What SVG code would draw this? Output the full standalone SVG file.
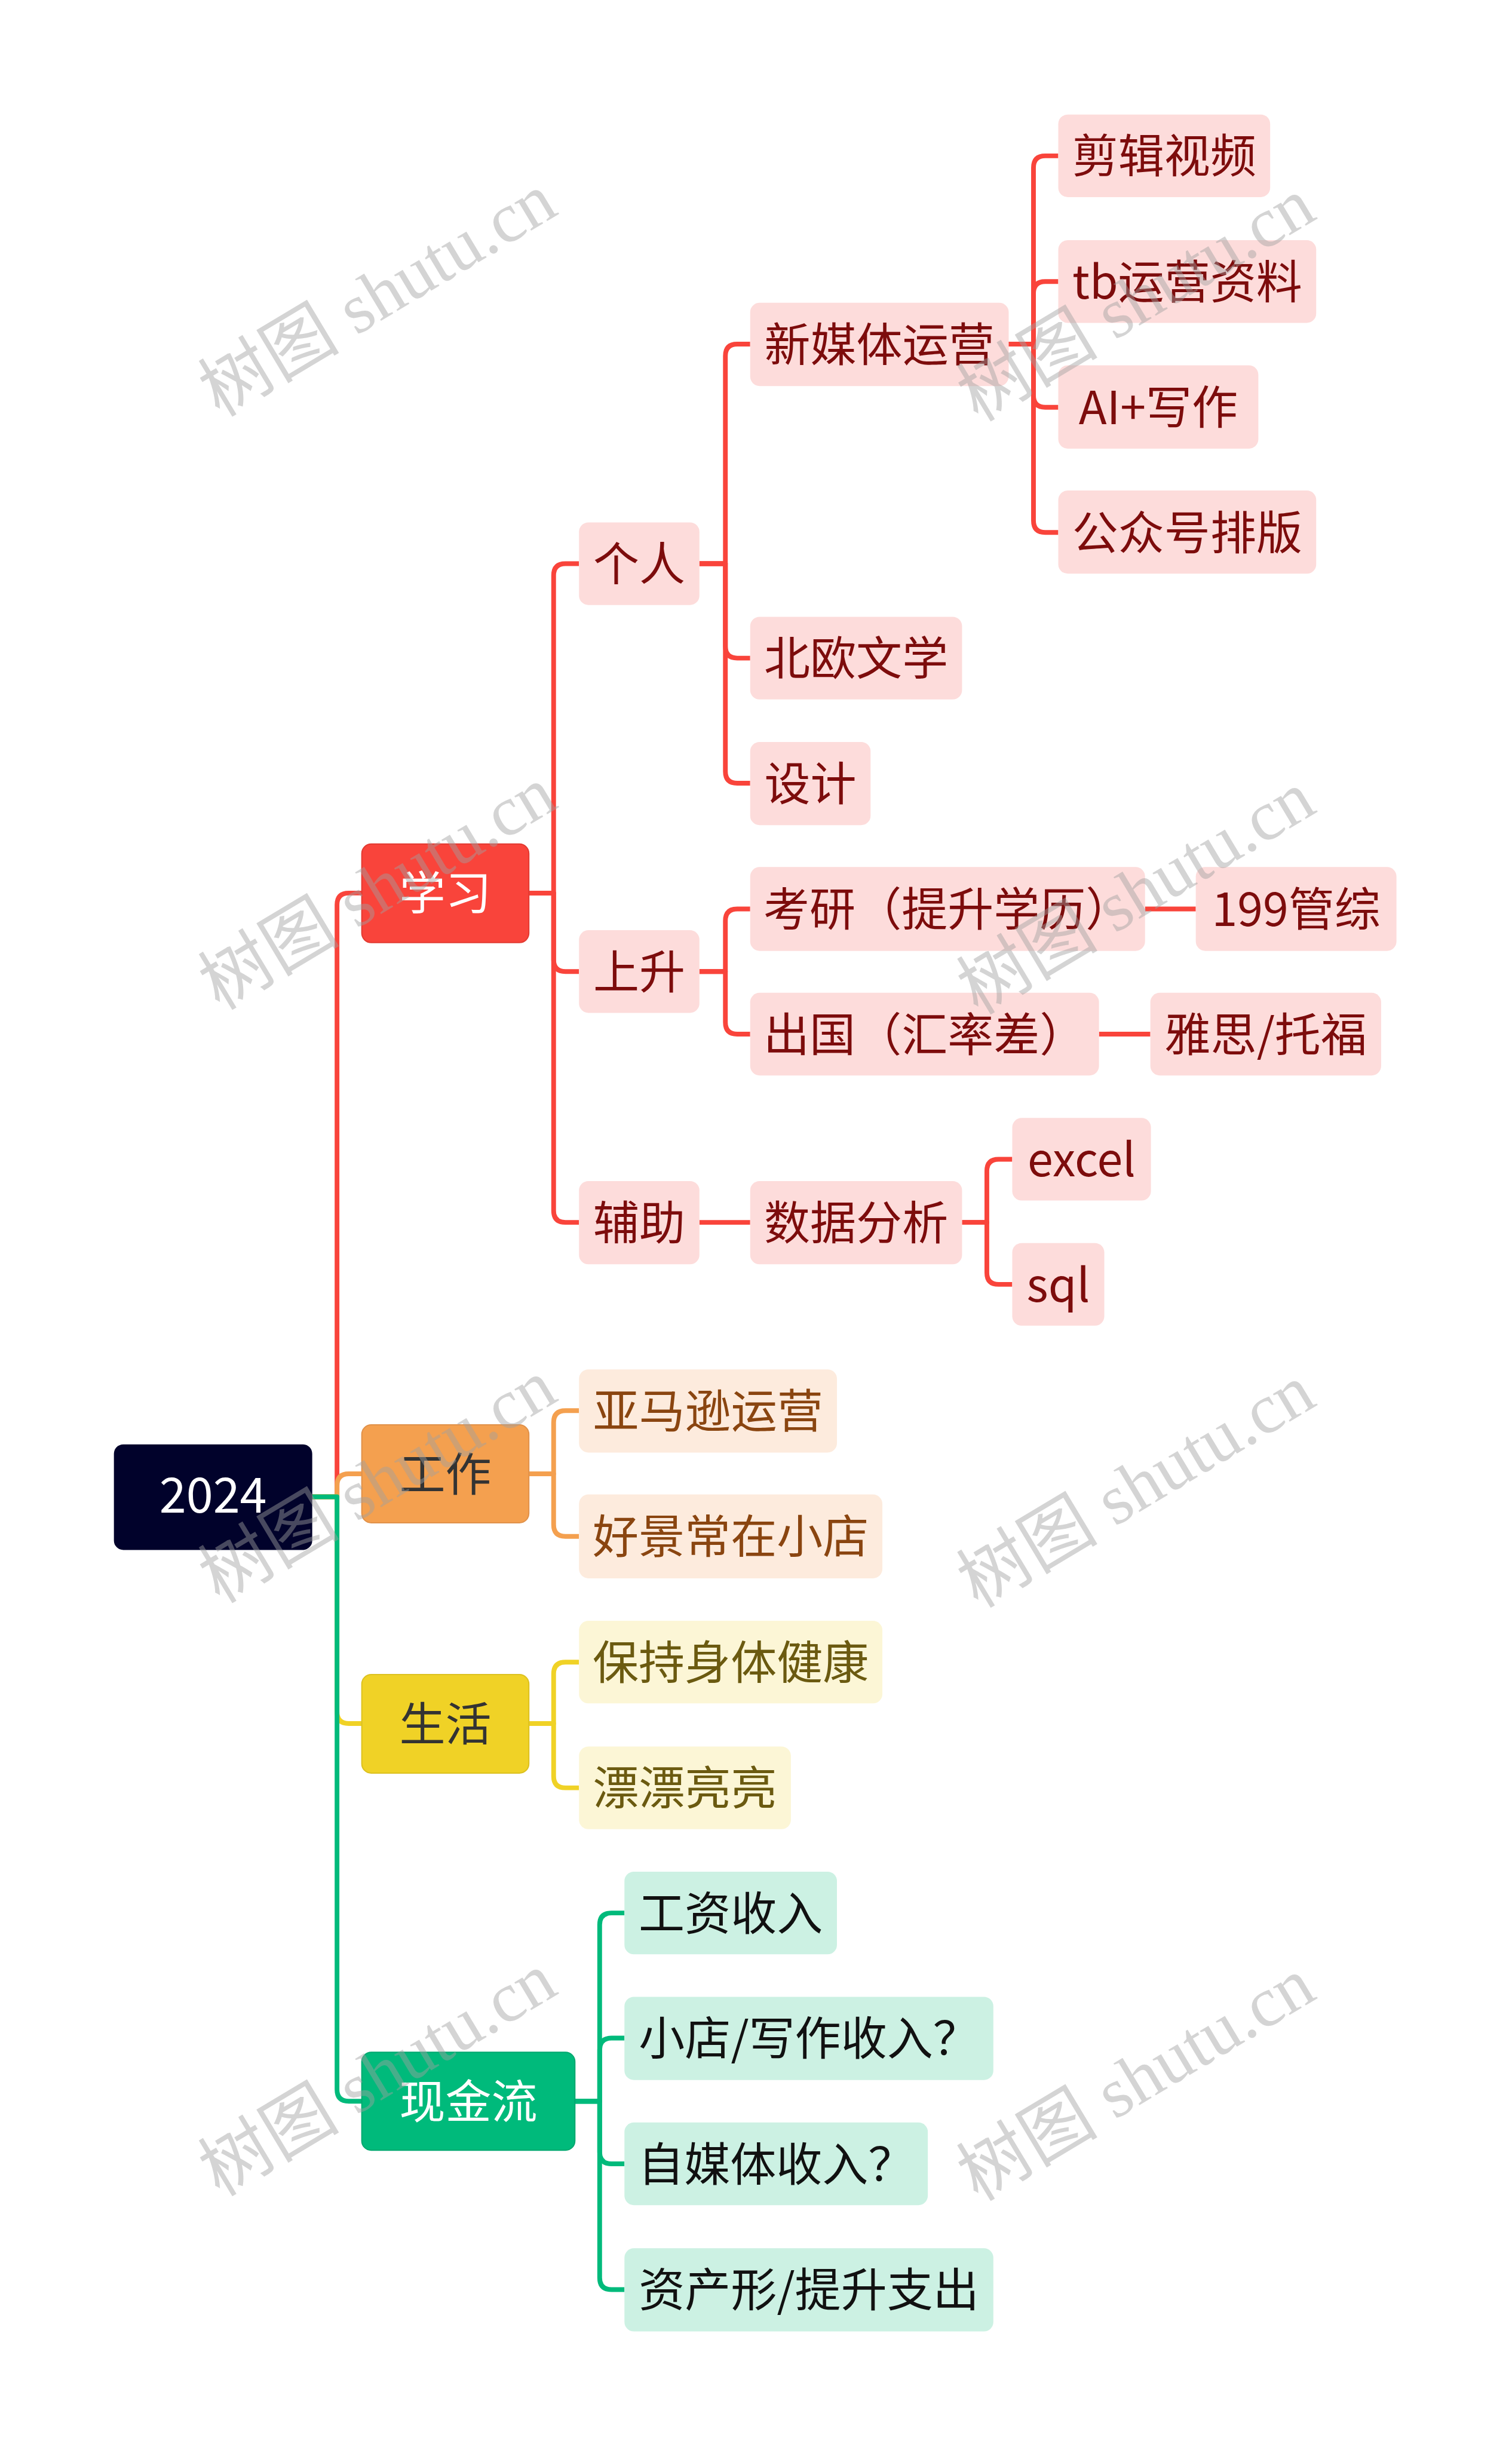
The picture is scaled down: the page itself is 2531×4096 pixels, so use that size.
<svg xmlns="http://www.w3.org/2000/svg" width="2531" height="4096" viewBox="0 0 2531 4096">
<style>
text{font-family:"Noto Sans CJK SC","Noto Sans",sans-serif;font-size:78px;text-anchor:middle}
.c{fill:none;stroke-width:8;stroke-linejoin:round}
.cr{stroke:#f9443b}.co{stroke:#f4a04f}.cy{stroke:#f0d226}.cg{stroke:#00ba7b}
.r1{fill:#f9443b;stroke:#e23a31;stroke-width:2}
.o1{fill:#f4a04f;stroke:#e0914a;stroke-width:2}
.y1{fill:#f0d226;stroke:#dcc11f;stroke-width:2}
.g1{fill:#00ba7b;stroke:#00a86f;stroke-width:2}
.r2{fill:#fddcdb}.o2{fill:#fdebdd}.y2{fill:#fcf6d6}.g2{fill:#ccf1e3}
.tr{fill:#7d0c0c}.to{fill:#8a4510}.ty{fill:#6b5a10}.tg{fill:#111111}
.tw{fill:#ffffff}.td{fill:#333333}
.wm{font-family:"Liberation Serif","Noto Sans CJK SC",serif;font-size:120px;text-anchor:start;fill:#a0a0a0;fill-opacity:0.45}
</style>
<rect width="2531" height="4096" fill="#ffffff"/>
<g transform="scale(0.988)">
<g id="connectors">
<path class="c cr" d="M529,2536 H571 V1533 Q571,1513 591,1513 H613"/>
<path class="c co" d="M529,2536 H571 V2517 Q571,2497 591,2497 H613"/>
<path class="c cy" d="M529,2536 H571 V2900 Q571,2920 591,2920 H613"/>
<path class="c cg" d="M529,2536 H571 V3540 Q571,3560 591,3560 H613"/>
<path class="c cr" d="M896,1513 H938 V975 Q938,955 958,955 H981"/>
<path class="c cr" d="M896,1513 H938 V1626 Q938,1646 958,1646 H981"/>
<path class="c cr" d="M896,1513 H938 V2051 Q938,2071 958,2071 H981"/>
<path class="c cr" d="M1185,955 H1229 V603 Q1229,583 1249,583 H1271"/>
<path class="c cr" d="M1185,955 H1229 V1095 Q1229,1115 1249,1115 H1271"/>
<path class="c cr" d="M1185,955 H1229 V1307 Q1229,1327 1249,1327 H1271"/>
<path class="c cr" d="M1709,583 H1751 V284 Q1751,264 1771,264 H1793"/>
<path class="c cr" d="M1709,583 H1751 V497 Q1751,477 1771,477 H1793"/>
<path class="c cr" d="M1709,583 H1751 V670 Q1751,690 1771,690 H1793"/>
<path class="c cr" d="M1709,583 H1751 V882 Q1751,902 1771,902 H1793"/>
<path class="c cr" d="M1185,1646 H1229 V1560 Q1229,1540 1249,1540 H1271"/>
<path class="c cr" d="M1185,1646 H1229 V1732 Q1229,1752 1249,1752 H1271"/>
<path class="c cr" d="M1940,1540 H2026"/>
<path class="c cr" d="M1862,1752 H1949"/>
<path class="c cr" d="M1185,2071 H1271"/>
<path class="c cr" d="M1630,2071 H1672 V1984 Q1672,1964 1692,1964 H1715"/>
<path class="c cr" d="M1630,2071 H1672 V2156 Q1672,2176 1692,2176 H1715"/>
<path class="c co" d="M896,2497 H938 V2410 Q938,2390 958,2390 H981"/>
<path class="c co" d="M896,2497 H938 V2583 Q938,2603 958,2603 H981"/>
<path class="c cy" d="M896,2920 H938 V2836 Q938,2816 958,2816 H981"/>
<path class="c cy" d="M896,2920 H938 V3009 Q938,3029 958,3029 H981"/>
<path class="c cg" d="M974,3560 H1016 V3261 Q1016,3241 1036,3241 H1058"/>
<path class="c cg" d="M974,3560 H1016 V3473 Q1016,3453 1036,3453 H1058"/>
<path class="c cg" d="M974,3560 H1016 V3646 Q1016,3666 1036,3666 H1058"/>
<path class="c cg" d="M974,3560 H1016 V3859 Q1016,3879 1036,3879 H1058"/>
</g>
<g id="root"><rect x="193" y="2447" width="336" height="179" rx="16" fill="#01022b"/><text x="361" y="2563" class="tw" style="font-size:82px">2024</text></g>
<g id="n-xuexi"><rect class="r1" x="613" y="1430" width="283" height="167" rx="16"/><text x="754.5" y="1542" class="tw">学习</text></g>
<g id="n-gongzuo"><rect class="o1" x="613" y="2414" width="283" height="166" rx="16"/><text x="754.5" y="2526" class="td">工作</text></g>
<g id="n-shenghuo"><rect class="y1" x="613" y="2837" width="283" height="167" rx="16"/><text x="754.5" y="2949" class="td">生活</text></g>
<g id="n-xianjinliu"><rect class="g1" x="613" y="3477" width="361" height="166" rx="16"/><text x="793.5" y="3589" class="tw">现金流</text></g>
<g id="n-geren"><rect class="r2" x="981" y="885" width="204" height="140" rx="16"/><text x="1083" y="984" class="tr">个人</text></g>
<g id="n-shangsheng"><rect class="r2" x="981" y="1576" width="204" height="140" rx="16"/><text x="1083" y="1675" class="tr">上升</text></g>
<g id="n-fuzhu"><rect class="r2" x="981" y="2001" width="204" height="141" rx="16"/><text x="1083" y="2100" class="tr">辅助</text></g>
<g id="n-xinmeiti"><rect class="r2" x="1271" y="513" width="438" height="141" rx="16"/><text x="1490" y="612" class="tr">新媒体运营</text></g>
<g id="n-beiou"><rect class="r2" x="1271" y="1045" width="359" height="140" rx="16"/><text x="1450.5" y="1144" class="tr">北欧文学</text></g>
<g id="n-sheji"><rect class="r2" x="1271" y="1257" width="204" height="141" rx="16"/><text x="1373" y="1356" class="tr">设计</text></g>
<g id="n-jianji"><rect class="r2" x="1793" y="194" width="359" height="140" rx="16"/><text x="1972.5" y="293" class="tr">剪辑视频</text></g>
<g id="n-tb"><rect class="r2" x="1793" y="407" width="437" height="140" rx="16"/><text x="2011.5" y="506" class="tr">tb运营资料</text></g>
<g id="n-ai"><rect class="r2" x="1793" y="619" width="339" height="141" rx="16"/><text x="1962.5" y="719" class="tr">AI+写作</text></g>
<g id="n-gongzhonghao"><rect class="r2" x="1793" y="831" width="437" height="141" rx="16"/><text x="2011.5" y="931" class="tr">公众号排版</text></g>
<g id="n-kaoyan"><rect class="r2" x="1271" y="1469" width="669" height="142" rx="16"/><text x="1605.5" y="1569" class="tr">考研（提升学历）</text></g>
<g id="n-chuguo"><rect class="r2" x="1271" y="1682" width="591" height="140" rx="16"/><text x="1566.5" y="1781" class="tr">出国（汇率差）</text></g>
<g id="n-199"><rect class="r2" x="2026" y="1469" width="340" height="142" rx="16"/><text x="2196" y="1569" class="tr">199管综</text></g>
<g id="n-yasi"><rect class="r2" x="1949" y="1682" width="391" height="140" rx="16"/><text x="2144.5" y="1781" class="tr">雅思/托福</text></g>
<g id="n-shuju"><rect class="r2" x="1271" y="2001" width="359" height="141" rx="16"/><text x="1450.5" y="2100" class="tr">数据分析</text></g>
<g id="n-excel"><rect class="r2" x="1715" y="1894" width="235" height="140" rx="16"/><text x="1832.5" y="1993" class="tr">excel</text></g>
<g id="n-sql"><rect class="r2" x="1715" y="2106" width="156" height="140" rx="16"/><text x="1793" y="2205" class="tr">sql</text></g>
<g id="n-yamaxun"><rect class="o2" x="981" y="2320" width="437" height="141" rx="16"/><text x="1199.5" y="2419" class="to">亚马逊运营</text></g>
<g id="n-haojing"><rect class="o2" x="981" y="2532" width="514" height="142" rx="16"/><text x="1238" y="2632" class="to">好景常在小店</text></g>
<g id="n-baochi"><rect class="y2" x="981" y="2746" width="514" height="140" rx="16"/><text x="1238" y="2845" class="ty">保持身体健康</text></g>
<g id="n-piaoliang"><rect class="y2" x="981" y="2959" width="359" height="140" rx="16"/><text x="1160.5" y="3058" class="ty">漂漂亮亮</text></g>
<g id="n-gongzi"><rect class="g2" x="1058" y="3171" width="360" height="140" rx="16"/><text x="1238" y="3270" class="tg">工资收入</text></g>
<g id="n-xiaodian"><rect class="g2" x="1058" y="3383" width="625" height="141" rx="16"/><text x="1370.5" y="3482" class="tg">小店/写作收入？</text></g>
<g id="n-zimeiti"><rect class="g2" x="1058" y="3596" width="514" height="140" rx="16"/><text x="1315" y="3695" class="tg">自媒体收入？</text></g>
<g id="n-zichan"><rect class="g2" x="1058" y="3809" width="625" height="141" rx="16"/><text x="1370.5" y="3908" class="tg">资产形/提升支出</text></g>
<g id="watermarks">
<text class="wm" x="372" y="708" transform="rotate(-31 372 708)">树图 shutu.cn</text>
<text class="wm" x="1657" y="716" transform="rotate(-31 1657 716)">树图 shutu.cn</text>
<text class="wm" x="372" y="1713" transform="rotate(-31 372 1713)">树图 shutu.cn</text>
<text class="wm" x="1657" y="1721" transform="rotate(-31 1657 1721)">树图 shutu.cn</text>
<text class="wm" x="372" y="2718" transform="rotate(-31 372 2718)">树图 shutu.cn</text>
<text class="wm" x="1657" y="2726" transform="rotate(-31 1657 2726)">树图 shutu.cn</text>
<text class="wm" x="372" y="3723" transform="rotate(-31 372 3723)">树图 shutu.cn</text>
<text class="wm" x="1657" y="3731" transform="rotate(-31 1657 3731)">树图 shutu.cn</text>
</g>
</g>
</svg>
